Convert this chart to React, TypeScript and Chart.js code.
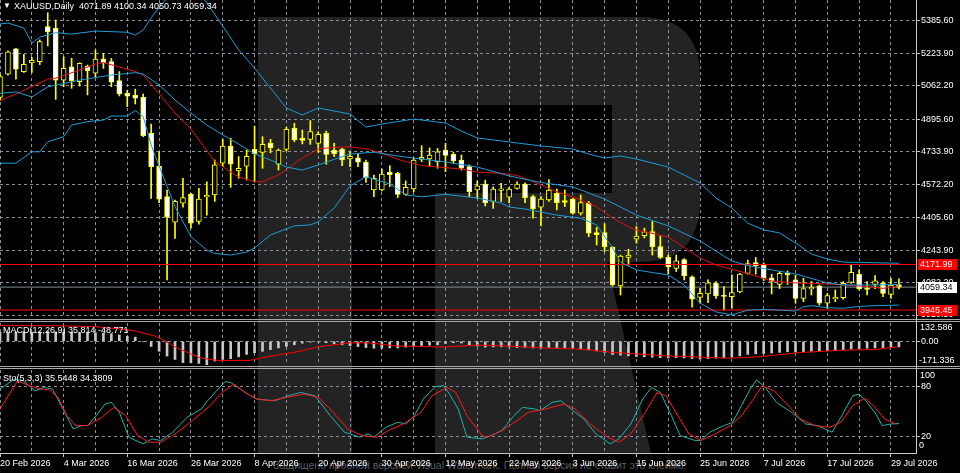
import React, { useEffect, useRef } from 'react';
import { Chart, registerables } from 'chart.js';

Chart.register(...registerables);

// ---------------- data ----------------
const symbolTitle = 'XAUUSD,Daily';
const macdTitle = 'MACD(12,26,9) 35.814 -48.771';
const stochTitle = 'Sto(5,3,3) 35.5448 34.3809';
const footerNote = 'Защищено пробной версией Visual Watermark. Полная версия не ставит это клеймо.';

const dateLabels = ['20 Feb 2026', '4 Mar 2026', '16 Mar 2026', '26 Mar 2026', '8 Apr 2026', '20 Apr 2026', '30 Apr 2026', '12 May 2026', '22 May 2026', '3 Jun 2026', '15 Jun 2026', '25 Jun 2026', '7 Jul 2026', '17 Jul 2026', '29 Jul 2026'];
const dateBarIndex = [0, 8, 16, 24, 32, 40, 48, 56, 64, 72, 80, 88, 96, 104, 112];

const opens = [5004, 5119, 5245, 5132, 5175, 5181, 5356, 5348, 5090, 5156, 5082, 5160, 5124, 5195, 5182, 5087, 5024, 5014, 5004, 4825, 4662, 4510, 4383, 4477, 4523, 4386, 4508, 4518, 4676, 4762, 4638, 4661, 4745, 4730, 4775, 4671, 4745, 4850, 4800, 4795, 4775, 4825, 4740, 4747, 4697, 4703, 4681, 4543, 4543, 4631, 4626, 4521, 4548, 4695, 4697, 4684, 4742, 4720, 4692, 4659, 4543, 4572, 4486, 4541, 4507, 4551, 4572, 4510, 4457, 4493, 4526, 4490, 4497, 4427, 4477, 4331, 4331, 4257, 4065, 4207, 4298, 4316, 4336, 4261, 4207, 4152, 4197, 4111, 4008, 4025, 4078, 4016, 4012, 4036, 4128, 4182, 4169, 4106, 4073, 4128, 4095, 4003, 4050, 4066, 3979, 4000, 4007, 4083, 4123, 4056, 4073, 4081, 4023, 4071.89];
const highs = [5120, 5235, 5248, 5218, 5203, 5290, 5425, 5389, 5206, 5198, 5176, 5165, 5240, 5223, 5198, 5132, 5040, 5045, 5021, 4871, 4733, 4543, 4493, 4601, 4526, 4551, 4584, 4692, 4795, 4800, 4709, 4741, 4861, 4808, 4795, 4747, 4855, 4875, 4841, 4888, 4833, 4836, 4775, 4750, 4733, 4720, 4692, 4617, 4647, 4664, 4631, 4588, 4703, 4763, 4752, 4750, 4775, 4730, 4717, 4668, 4588, 4592, 4559, 4576, 4556, 4584, 4579, 4518, 4510, 4595, 4547, 4543, 4501, 4518, 4486, 4357, 4375, 4261, 4219, 4248, 4361, 4353, 4386, 4314, 4219, 4219, 4202, 4115, 4053, 4095, 4087, 4062, 4120, 4128, 4194, 4207, 4180, 4124, 4137, 4140, 4120, 4103, 4087, 4070, 4028, 4045, 4087, 4169, 4145, 4087, 4117, 4087, 4103, 4100.34];
const lows = [4990, 5115, 5094, 5128, 5128, 5167, 5260, 4994, 5057, 5049, 5060, 5016, 5107, 5148, 5057, 5011, 4958, 4971, 4808, 4501, 4480, 4095, 4302, 4457, 4353, 4373, 4418, 4486, 4659, 4556, 4601, 4592, 4584, 4651, 4728, 4642, 4737, 4783, 4772, 4770, 4730, 4671, 4709, 4664, 4659, 4659, 4581, 4510, 4538, 4559, 4505, 4516, 4534, 4684, 4659, 4651, 4634, 4676, 4642, 4510, 4501, 4463, 4451, 4486, 4480, 4547, 4480, 4402, 4364, 4486, 4443, 4460, 4422, 4418, 4310, 4269, 4236, 4065, 4020, 4168, 4278, 4304, 4219, 4202, 4125, 4137, 4095, 3959, 3979, 3982, 4003, 3945, 3954, 4031, 4124, 4124, 4091, 4025, 4052, 4073, 3979, 3987, 4020, 3970, 3954, 3987, 3999, 4078, 4045, 4020, 4052, 4012, 4003, 4050.73];
const closes = [5107, 5231, 5144, 5168, 5188, 5281, 5330, 5090, 5148, 5087, 5173, 5137, 5195, 5177, 5079, 5021, 5010, 5000, 4813, 4659, 4497, 4407, 4486, 4505, 4378, 4498, 4516, 4668, 4762, 4671, 4651, 4711, 4722, 4770, 4752, 4742, 4845, 4792, 4790, 4833, 4820, 4720, 4724, 4692, 4711, 4681, 4604, 4601, 4622, 4619, 4521, 4556, 4692, 4705, 4717, 4733, 4715, 4687, 4651, 4534, 4563, 4480, 4547, 4548, 4547, 4572, 4505, 4448, 4497, 4543, 4480, 4481, 4427, 4480, 4328, 4320, 4261, 4070, 4214, 4219, 4314, 4334, 4261, 4207, 4160, 4190, 4115, 3999, 4028, 4081, 4015, 4013, 4032, 4124, 4177, 4166, 4103, 4088, 4128, 4120, 4003, 4052, 4059, 3979, 4017, 4009, 4078, 4133, 4050, 4048, 4091, 4028, 4070, 4059.34];

// Bollinger bands and moving average, read at bar positions [barIndex, price]
const bbUpper = [[0, 5369], [1, 5374], [3, 5349], [4, 5274], [5, 5304], [7, 5326], [9, 5319], [12, 5334], [16, 5328], [17, 5314], [18, 5339], [19, 5400], [20, 5450], [21, 5500], [23, 5545], [25, 5520], [26, 5474], [28, 5359], [30, 5240], [32, 5150], [34, 5050], [36, 4951], [38, 4916], [40, 4951], [44, 4921], [46, 4856], [48, 4871], [52, 4896], [56, 4876], [58, 4836], [60, 4802], [64, 4782], [68, 4762], [72, 4747], [74, 4722], [76, 4702], [78, 4712], [80, 4697], [84, 4657], [88, 4578], [90, 4503], [92, 4453], [94, 4378], [96, 4344], [98, 4329], [100, 4279], [102, 4224], [104, 4199], [106, 4184], [112, 4179], [113, 4178]];
const bbMiddle = [[0, 5024], [2, 5031], [4, 5006], [6, 5056], [10, 5090], [14, 5115], [17, 5127], [18, 5120], [20, 5066], [22, 4991], [24, 4926], [26, 4866], [28, 4817], [30, 4772], [32, 4722], [34, 4692], [36, 4657], [38, 4642], [40, 4667], [42, 4695], [44, 4722], [47, 4731], [50, 4712], [52, 4702], [56, 4682], [60, 4657], [64, 4613], [68, 4580], [72, 4558], [76, 4498], [78, 4458], [80, 4418], [84, 4364], [88, 4289], [92, 4189], [94, 4167], [97, 4145], [100, 4125], [104, 4080], [106, 4070], [110, 4070], [113, 4073]];
const bbLower = [[0, 4676], [2, 4676], [4, 4733], [5, 4733], [6, 4783], [8, 4808], [9, 4866], [11, 4883], [13, 4891], [14, 4911], [16, 4911], [17, 4938], [18, 4908], [19, 4767], [20, 4662], [22, 4460], [24, 4310], [26, 4244], [27, 4227], [29, 4219], [31, 4234], [32, 4254], [34, 4319], [37, 4364], [39, 4369], [40, 4384], [42, 4453], [44, 4563], [46, 4609], [49, 4573], [51, 4518], [53, 4509], [56, 4521], [60, 4503], [63, 4478], [64, 4458], [66, 4448], [70, 4418], [73, 4402], [75, 4369], [77, 4254], [78, 4184], [80, 4145], [82, 4132], [84, 4120], [86, 4070], [88, 3980], [90, 3936], [92, 3921], [94, 3945], [96, 3948], [98, 3945], [100, 3940], [101, 3962], [102, 3967], [104, 3957], [106, 3954], [108, 3963], [110, 3967], [113, 3970]];
const movingAvg = [[0, 4987], [2, 5021], [6, 5095], [7, 5099], [10, 5140], [12, 5170], [13, 5177], [15, 5155], [17, 5133], [18, 5115], [20, 5021], [22, 4926], [24, 4846], [27, 4684], [30, 4608], [32, 4584], [33, 4584], [35, 4617], [38, 4702], [40, 4747], [42, 4755], [44, 4758], [46, 4747], [48, 4727], [50, 4695], [53, 4664], [56, 4654], [58, 4647], [60, 4632], [63, 4626], [65, 4615], [67, 4585], [70, 4534], [72, 4508], [75, 4460], [77, 4403], [79, 4359], [80, 4344], [84, 4309], [88, 4204], [90, 4169], [94, 4127], [97, 4090], [100, 4080], [104, 4075], [108, 4065], [111, 4053], [113, 4066]];

const levelHigh = 4171.99;
const levelLow = 3945.45;
const lastPrice = 4059.34;
const priceTicks = [5385.6, 5223.9, 5062.2, 4895.6, 4733.9, 4572.2, 4405.6, 4243.9, 4082.2, 3920.5];
const priceMin = 3905.6;
const priceMax = 5488.6;

const macdHist = [65, 66, 68, 68, 67, 68, 70, 68, 66, 65, 64, 62, 62, 60, 55, 46, 36, 30, -3, -37, -72, -107, -131, -154, -156, -160, -170, -143, -131, -126, -112, -95, -83, -72, -60, -48, -37, -25, -13, -6, -5, -10, -18, -25, -32, -38, -45, -50, -50, -48, -48, -42, -35, -30, -28, -25, -15, -10, -12, -25, -35, -42, -40, -40, -42, -45, -45, -48, -50, -45, -45, -45, -48, -55, -62, -70, -80, -95, -100, -105, -110, -112, -115, -118, -120, -118, -120, -125, -128, -125, -122, -120, -115, -105, -95, -90, -88, -85, -80, -76, -78, -75, -72, -70, -68, -65, -60, -55, -52, -50, -48, -45, -42, -40];
const macdSignal = [[0, 116], [4, 114], [8, 112], [12, 106], [15, 90], [17, 75], [19.7, 34], [22.2, -46], [25.1, -119], [27.3, -138], [31.4, -138], [33.6, -112], [37.7, -72], [39.8, -41], [44, -11], [46.3, -11], [49.9, -34], [55.8, -41], [60.2, -27], [63.8, -34], [67.5, -46], [73.4, -58], [77.1, -81], [83.7, -105], [91.8, -122], [95.4, -112], [100.6, -81], [105.7, -65], [110.1, -58], [112.8, -41]];
const macdMax = 132.586;
const macdMin = -171.336;
const macdTicks = [0];

const stochK = [[0, 77], [1.8, 89], [2.9, 87], [4.4, 75], [5.5, 79], [6.6, 77], [7.7, 57], [9.2, 29], [10.3, 33], [11, 33], [12.1, 45], [13.2, 59], [14, 61], [15, 49], [16.2, 19], [18, 11], [19.1, 17], [20.2, 15], [21.7, 25], [23.5, 43], [25.3, 53], [26.1, 63], [27.2, 75], [28.3, 86], [29, 85], [30.8, 73], [32.3, 65], [34.5, 63], [36.3, 69], [37.8, 73], [39.6, 69], [41.5, 45], [43.3, 25], [44, 23], [45.2, 19], [46.3, 23], [47, 19], [48.5, 31], [50, 37], [51, 35], [52.1, 45], [53.2, 65], [54.7, 80], [55.8, 81], [56.5, 71], [57.6, 53], [58.7, 19], [60.6, 17], [61.7, 21], [63.1, 27], [64.6, 45], [65.7, 55], [67.2, 53], [67.9, 51], [69.4, 61], [70.5, 63], [72.3, 49], [73.4, 41], [74.9, 23], [76.7, 11], [77.8, 17], [79.3, 35], [80.8, 65], [81.9, 79], [83, 73], [84.4, 45], [85.5, 21], [87.4, 15], [88.1, 15], [89.2, 25], [91, 33], [92.1, 37], [93.2, 57], [94.3, 77], [95.1, 88], [96.2, 79], [97.6, 61], [99.5, 49], [101.3, 35], [102.8, 33], [104.6, 25], [105.7, 43], [107.2, 69], [108, 71], [109, 61], [110.1, 47], [110.9, 33], [112, 35], [113, 35.5448]];
const stochD = [[0, 53], [2.2, 87], [3.7, 81], [5.1, 77], [6.2, 76], [7.3, 67], [8.4, 45], [9.5, 33], [11, 33], [12.8, 43], [14.3, 55], [15.8, 45], [17.3, 21], [18.7, 13], [20.2, 13], [22, 23], [24.2, 39], [26.4, 57], [27.9, 73], [29.4, 83], [30.8, 73], [32.3, 65], [34.1, 63], [36, 67], [38.2, 71], [40, 67], [41.9, 49], [43.7, 29], [45.5, 21], [47.4, 19], [48.8, 27], [50.7, 35], [52.9, 49], [54.3, 69], [56.2, 79], [57.3, 73], [58.7, 45], [60.6, 21], [61.3, 19], [63.1, 27], [65, 39], [66.4, 49], [68.6, 53], [70.9, 59], [72.3, 53], [74.2, 35], [76.4, 19], [77.8, 13], [79.3, 23], [81.1, 49], [82.6, 73], [83.7, 69], [85.2, 45], [86.6, 23], [88.1, 15], [89.9, 23], [91.8, 33], [93.2, 45], [94.7, 65], [95.8, 81], [97.3, 75], [99.1, 57], [100.6, 41], [102.4, 33], [104.3, 31], [105.7, 37], [107.2, 57], [108.7, 66], [109.8, 57], [111.2, 41], [112.7, 34.3809]];
const stochTicks = [80, 20];

// ---------------- style ----------------
const FONT = "'Liberation Sans', Arial, sans-serif";
const GRID = '#8a9099';
const AXIS = '#c8c8c8';
const CANDLE = '#ffff00';
const BAND = '#1c9cd8';
const MA_RED = '#e01010';
const PLOT_RIGHT = 916;
const BAR_PX = 7.955;
const X_MAX = PLOT_RIGHT / BAR_PX;
const GRID_STEP = 4;

Chart.defaults.font.family = FONT;
Chart.defaults.font.size = 9;
Chart.defaults.color = '#ffffff';

const toXY = (arr: number[][]) => arr.map(([x, y]) => ({ x, y }));
const gridTicks = () => {
  const t: { value: number }[] = [];
  for (let v = 0; v <= X_MAX; v += GRID_STEP) t.push({ value: v });
  return t;
};

function xScale(showLabels: boolean): any {
  return {
    type: 'linear',
    min: 0,
    max: X_MAX,
    offset: false,
    afterBuildTicks: (s: any) => { s.ticks = gridTicks(); },
    afterFit: (s: any) => { s.paddingLeft = 0; s.paddingRight = 0; s.height = showLabels ? 20 : 0; },
    grid: {
      offset: false,
      color: GRID,
      lineWidth: 1,
      drawTicks: showLabels,
      tickLength: 4,
      tickWidth: 1,
      tickColor: (c: any) => (c.tick && dateBarIndex.includes(c.tick.value) ? AXIS : 'rgba(0,0,0,0)'),
    },
    border: { display: showLabels, color: AXIS, width: 1, dash: [3, 3] },
    ticks: {
      display: showLabels,
      autoSkip: false,
      maxRotation: 0,
      minRotation: 0,
      align: 'start',
      padding: 1,
      color: '#ffffff',
      font: { family: FONT, size: 9 },
      callback: (v: number) => {
        const k = dateBarIndex.indexOf(v);
        return k >= 0 ? dateLabels[k] : '';
      },
    },
  };
}

function yScale(min: number, max: number, ticks: number[], fmt: (v: number) => string): any {
  return {
    position: 'right',
    min,
    max,
    afterBuildTicks: (s: any) => { s.ticks = ticks.map((v) => ({ value: v })); },
    afterFit: (s: any) => { s.width = 960 - PLOT_RIGHT; s.paddingTop = 0; s.paddingBottom = 0; },
    grid: { color: GRID, lineWidth: 1, drawTicks: true, tickLength: 4, tickColor: AXIS },
    border: { display: false, dash: [3, 3] },
    ticks: { autoSkip: false, padding: 1, color: '#ffffff', font: { family: FONT, size: 9 }, callback: (v: number) => fmt(Number(v)) },
  };
}

const baseOptions = {
  responsive: false,
  maintainAspectRatio: false,
  animation: false,
  events: [],
  plugins: { legend: { display: false }, tooltip: { enabled: false } },
};

const line = (data: number[][], color: string, order = 1) => ({
  type: 'line',
  data: toXY(data),
  borderColor: color,
  borderWidth: 1,
  pointRadius: 0,
  tension: 0,
  order,
});

const priceTags = [
  { value: levelHigh, bg: '#ff0000', fg: '#ffffff' },
  { value: lastPrice, bg: '#ffffff', fg: '#000000' },
  { value: levelLow, bg: '#ff0000', fg: '#ffffff' },
];

const priceTagPlugin = {
  id: 'priceTags',
  afterDraw(chart: any) {
    const { ctx, chartArea, scales } = chart;
    ctx.save();
    ctx.font = `9px ${FONT}`;
    ctx.textBaseline = 'middle';
    ctx.textAlign = 'left';
    priceTags.forEach((t) => {
      const y = Math.round(scales.y.getPixelForValue(t.value));
      ctx.fillStyle = t.bg;
      ctx.fillRect(chartArea.right + 2, y - 5, 39, 11);
      ctx.fillStyle = t.fg;
      ctx.fillText(t.value.toFixed(2), chartArea.right + 4, y + 0.5);
    });
    ctx.restore();
  },
};

const edgeLabels = (top: string, bottom: string, topOff: number, botOff: number) => ({
  id: 'edgeLabels',
  afterDraw(chart: any) {
    const { ctx, chartArea } = chart;
    ctx.save();
    ctx.font = `9px ${FONT}`;
    ctx.fillStyle = '#ffffff';
    ctx.textBaseline = 'middle';
    ctx.textAlign = 'left';
    ctx.fillText(top, chartArea.right + 4, chartArea.top + topOff);
    ctx.fillText(bottom, chartArea.right + 3, chartArea.bottom - botOff);
    ctx.restore();
  },
});

function mainConfig(): any {
  const idx = closes.map((_, i) => i);
  return {
    type: 'bar',
    data: {
      datasets: [
        line(bbUpper, BAND),
        line(bbMiddle, BAND),
        line(bbLower, BAND),
        line(movingAvg, MA_RED),
        line([[0, levelHigh], [X_MAX, levelHigh]], '#ff0000', 2),
        line([[0, levelLow], [X_MAX, levelLow]], '#ff0000', 2),
        line([[0, lastPrice], [X_MAX, lastPrice]], '#7d8a98', 6),
        {
          type: 'bar',
          data: idx.map((i) => ({ x: i, y: [lows[i], highs[i]] })),
          backgroundColor: CANDLE,
          barThickness: 1,
          grouped: false,
          order: 5,
        },
        {
          type: 'bar',
          data: idx.map((i) => ({ x: i, y: [opens[i], closes[i]] })),
          backgroundColor: idx.map((i) => (closes[i] >= opens[i] ? '#000000' : '#ffffff')),
          borderColor: CANDLE,
          borderWidth: 1,
          borderSkipped: false,
          barThickness: 5,
          minBarLength: 1,
          grouped: false,
          order: 4,
        },
      ],
    },
    options: {
      ...baseOptions,
      layout: { padding: { left: 0, right: 0, top: 0, bottom: 4 } },
      scales: {
        x: xScale(false),
        y: yScale(priceMin, priceMax, priceTicks, (v) => v.toFixed(2)),
      },
    },
    plugins: [priceTagPlugin],
  };
}

function macdConfig(): any {
  return {
    type: 'bar',
    data: {
      datasets: [
        line(macdSignal, '#ff0000', 1),
        {
          type: 'bar',
          data: macdHist.map((v, i) => ({ x: i, y: v })),
          backgroundColor: '#c8c8c8',
          barThickness: 2,
          grouped: false,
          order: 3,
        },
      ],
    },
    options: {
      ...baseOptions,
      layout: { padding: { left: 0, right: 0, top: 1, bottom: 1 } },
      scales: {
        x: xScale(false),
        y: yScale(macdMin, macdMax, macdTicks, (v) => v.toFixed(2)),
      },
    },
    plugins: [edgeLabels(macdMax.toFixed(3), macdMin.toFixed(3), 4.5, 4.5)],
  };
}

function stochConfig(): any {
  return {
    type: 'line',
    data: {
      datasets: [
        line(stochD, '#ff1a1a', 1),
        line(stochK, '#20b2aa', 2),
      ],
    },
    options: {
      ...baseOptions,
      layout: { padding: { left: 0, right: 0, top: 1, bottom: 0 } },
      scales: {
        x: xScale(true),
        y: yScale(0, 100, stochTicks, (v) => String(Math.round(v))),
      },
    },
    plugins: [edgeLabels('100', '0', 6, 7)],
  };
}

const abs = (left: number, top: number, width: number, height: number, extra: any = {}): React.CSSProperties => ({
  position: 'absolute', left, top, width, height, ...extra,
});

const textStyle = (left: number, top: number, extra: any = {}): React.CSSProperties => ({
  position: 'absolute', left, top, color: '#ffffff', fontFamily: FONT, fontSize: 9, lineHeight: '11px', whiteSpace: 'pre', ...extra,
});

export default function App() {
  const mainRef = useRef<HTMLCanvasElement>(null);
  const macdRef = useRef<HTMLCanvasElement>(null);
  const stochRef = useRef<HTMLCanvasElement>(null);

  useEffect(() => {
    document.body.style.margin = '0';
    document.body.style.background = '#000';
    const charts = [
      new Chart(mainRef.current as HTMLCanvasElement, mainConfig()),
      new Chart(macdRef.current as HTMLCanvasElement, macdConfig()),
      new Chart(stochRef.current as HTMLCanvasElement, stochConfig()),
    ];
    return () => charts.forEach((c) => c.destroy());
  }, []);

  const ohlc = [opens[113], highs[113], lows[113], closes[113]].map((v) => v.toFixed(2)).join(' ');

  return (
    <div style={{ position: 'fixed', left: 0, top: 0, width: 960, height: 473, background: '#000', overflow: 'hidden' }}>
      <svg width={960} height={473} style={{ position: 'absolute', left: 0, top: 0 }}>
        <path
          d="M258 17 H640 Q700 17 700 77 V200 Q700 262 640 262 H607 L651 453 H435 V193 H612 V105 H352 V453 H258 Z"
          fill="#232323"
        />
      </svg>
      <div style={textStyle(0, 459, { width: 960, textAlign: 'center', color: '#5e5e5e', fontSize: 10.5, lineHeight: '12px' })}>{footerNote}</div>

      <canvas ref={mainRef} width={960} height={322} style={abs(0, 0, 960, 322)} />
      <canvas ref={macdRef} width={960} height={44} style={abs(0, 322, 960, 44)} />
      <canvas ref={stochRef} width={960} height={104} style={abs(0, 369, 960, 104)} />

      <div style={abs(0, 319, 960, 1, { background: '#a8a8a8' })} />
      <div style={abs(0, 321, 960, 1, { background: '#a8a8a8' })} />
      <div style={abs(0, 366, 960, 1, { background: '#a8a8a8' })} />
      <div style={abs(0, 368, 960, 1, { background: '#a8a8a8' })} />
      <div style={abs(PLOT_RIGHT, 0, 1, 454, { background: AXIS })} />

      <div style={textStyle(3, 0, { fontSize: 8 })}>▼</div>
      <div style={textStyle(14, 1)}>{symbolTitle + '  ' + ohlc}</div>
      <div style={textStyle(3, 325)}>{macdTitle}</div>
      <div style={textStyle(3, 373)}>{stochTitle}</div>
    </div>
  );
}
